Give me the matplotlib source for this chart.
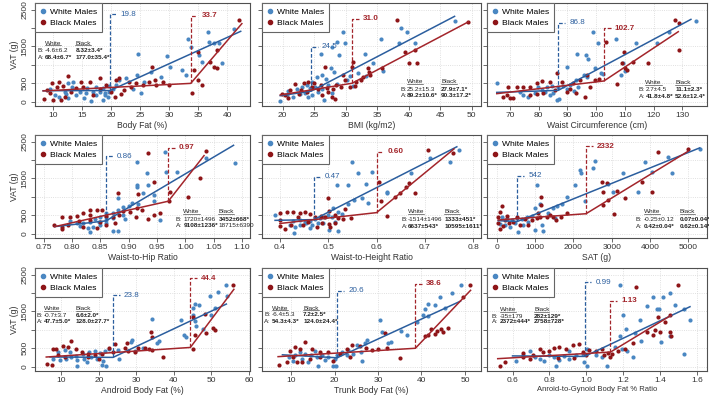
import matplotlib.pyplot as plt
from matplotlib.lines import Line2D

plt.rcParams['font.family'] = ['Liberation Sans', 'DejaVu Sans']

# ---- values: (x, VAT g) ----
bf_white = [(36.7,1880),(41.1,1985),(36.8,1627),(37.7,1582),(38.6,1582),(33.3,1690),(33.7,1490),(35.1,1265),(35.7,1084),(39.1,1038),(32.2,855),(32.9,720),(29.7,1238),(30.1,946),(24.6,1283),(24.5,720),(26.9,811),(28.6,675),(25.7,539),(22.6,630),(21.3,584),(20.9,448),(23.7,330),(25.1,222),(20.3,330),(19.7,267),(19.4,131),(18.6,41),(19.0,177),(18.0,267),(17.4,177),(16.6,5),(15.4,86),(14.6,267),(14.0,177),(13.3,385),(12.6,494),(12.0,267),(11.1,131),(10.3,177),(9.4,330),(12.6,86),(15.8,358),(17.4,385),(18.6,358),(19.7,421),(13.4,539),(16.9,267),(18.9,240),(12.2,195),(15.6,222)]
bf_black = [(42.0,2215),(38.3,1400),(35.0,1336),(37.1,1084),(37.7,946),(38.3,901),(34.3,856),(34.9,584),(35.7,448),(33.9,240),(27.1,946),(26.6,539),(27.6,584),(28.9,539),(29.9,448),(20.9,584),(21.4,630),(19.1,448),(18.0,630),(16.3,539),(14.9,539),(12.6,693),(11.1,539),(9.8,512),(10.6,385),(11.7,421),(8.9,312),(8.5,68),(10.0,41),(11.4,41),(12.0,131),(14.0,358),(15.1,385),(20.0,267),(21.7,203),(20.6,131),(23.4,385),(24.3,494),(25.4,448),(27.7,448),(23.1,539),(16.9,177),(18.0,330),(9.4,222),(13.1,267),(22.3,312)]
bf_white_fit = [(8.3,295),(19.8,300),(42.3,1910)]
bf_black_fit = [(8.3,290),(33.7,495),(42.5,2120)]
bf_bp = [("19.8", 2370), ("33.7", 2330)]
bf_stats_white = ["-4.6±6.2", "68.4±6.7*"]
bf_stats_black = ["8.32±3.4*", "177.0±35.4*"]
bf_xticks = [10, 15, 20, 25, 30, 35, 40]

bmi_white = [(47.4,2197),(38.8,1989),(39.8,1880),(29.5,1880),(28.6,1627),(29.9,1582),(35.6,1699),(38.4,1582),(41.0,1600),(27.8,1472),(26.1,1283),(29.0,1265),(33.1,1283),(34.4,1056),(35.9,829),(32.0,766),(30.7,693),(27.7,901),(28.2,811),(26.2,720),(25.4,657),(26.8,602),(24.7,539),(23.8,448),(23.0,385),(22.2,330),(20.9,294),(20.6,177),(19.6,10),(21.7,131),(22.8,195),(23.5,240),(24.3,358),(25.1,403),(25.6,267),(26.3,330),(26.6,41),(27.2,448),(27.8,240),(28.6,475),(30.2,584),(31.1,421),(33.3,693),(24.6,177),(24.0,131)]
bmi_black = [(49.5,2170),(38.1,2215),(39.5,1336),(41.0,1400),(40.0,1056),(41.3,1056),(26.7,946),(31.1,1084),(31.0,946),(33.6,920),(33.7,811),(33.9,720),(35.7,901),(32.4,584),(32.8,675),(31.7,539),(29.6,720),(29.9,584),(28.5,448),(28.0,330),(27.9,131),(28.3,59),(27.0,358),(26.0,448),(25.0,512),(24.0,539),(23.3,512),(21.9,475),(21.2,312),(20.4,177),(19.8,203),(20.9,86),(22.5,195),(22.9,312),(23.8,267),(25.6,330),(26.3,177),(27.2,267),(29.2,403),(31.5,421),(30.7,385),(24.6,385)]
bmi_white_fit = [(19.6,160),(24.5,283),(47.3,2317)]
bmi_black_fit = [(19.6,180),(31.0,498),(49.5,2168)]
bmi_bp = [("24.5", 1492), ("31.0", 2258)]
bmi_stats_white = ["25.2±15.3", "89.2±10.6*"]
bmi_stats_black = ["27.9±7.1*", "90.3±17.2*"]
bmi_xticks = [20, 25, 30, 35, 40, 45, 50]

wc_white = [(134.8,2197),(125.5,1880),(99.0,1880),(100.8,1582),(106.9,1699),(113.8,1582),(121.3,1600),(96.4,1265),(93.2,1283),(97.3,1147),(89.7,946),(99.6,901),(101.6,784),(102.5,738),(108.6,720),(110.1,829),(109.5,1056),(95.6,720),(96.7,657),(93.0,584),(90.9,448),(88.6,421),(86.8,385),(84.5,421),(82.8,385),(81.0,312),(78.7,222),(76.4,131),(74.6,177),(65.4,494),(73.5,267),(85.1,240),(86.5,41),(87.2,59),(89.7,330),(92.3,294),(93.8,385),(83.9,177),(79.9,385),(82.2,267)]
wc_black = [(127.5,2215),(128.7,2143),(128.7,1400),(117.9,1056),(109.8,1356),(108.9,1038),(112.7,1084),(110.1,901),(110.6,856),(107.2,475),(103.4,1627),(96.7,720),(94.4,584),(96.1,131),(90.9,330),(92.1,494),(88.0,539),(86.5,766),(83.9,539),(81.0,566),(79.3,494),(77.0,385),(74.6,403),(72.3,403),(69.4,385),(68.8,177),(69.9,86),(71.2,86),(67.7,131),(77.0,177),(79.3,203),(81.6,222),(85.7,312),(89.7,267),(93.0,240),(99.6,584),(101.1,602),(97.9,385)]
wc_white_fit = [(65.4,250),(86.8,305),(133.0,2235)]
wc_black_fit = [(65.4,215),(102.7,560),(128.6,1900)]
wc_bp = [("86.8", 2140), ("102.7", 1990)]
wc_stats_white = ["2.7±4.5", "41.8±4.8*"]
wc_stats_black = ["11.1±2.3*", "52.6±12.4*"]
wc_xticks = [70, 80, 90, 100, 110, 120, 130]

whr_white = [(0.965,2224),(1.036,2043),(1.087,1925),(0.914,1934),(0.932,1635),(0.966,1680),(0.985,1680),(0.934,1317),(0.914,1317),(0.914,1272),(0.926,1090),(0.944,1045),(0.882,955),(0.906,820),(0.917,802),(0.901,747),(0.945,883),(0.890,711),(0.882,639),(0.873,566),(0.860,548),(0.860,439),(0.850,439),(0.841,385),(0.832,322),(0.820,276),(0.809,294),(0.797,349),(0.861,276),(0.850,231),(0.838,186),(0.828,140),(0.815,204),(0.873,77),(0.882,77),(0.832,50),(0.861,367),(0.873,412),(0.890,502),(0.955,367),(0.847,322),(0.894,385)]
whr_black = [(1.036,2251),(0.934,2179),(1.025,1517),(1.005,1000),(0.945,1390),(0.882,1090),(0.973,1136),(0.972,883),(0.917,1063),(0.945,502),(0.955,548),(0.934,385),(0.913,439),(0.923,639),(0.914,684),(0.903,593),(0.890,620),(0.883,502),(0.873,457),(0.861,475),(0.853,639),(0.844,639),(0.832,639),(0.832,502),(0.820,548),(0.809,475),(0.797,439),(0.782,439),(0.782,186),(0.782,113),(0.768,231),(0.794,231),(0.820,186),(0.844,140),(0.861,231),(0.876,276),(0.832,367),(0.850,322),(0.812,349)]
whr_white_fit = [(0.77,190),(0.86,345),(1.085,2400)]
whr_black_fit = [(0.77,190),(0.97,880),(1.033,2120)]
whr_bp = [("0.86", 2106), ("0.97", 2328)]
whr_stats_white = ["1720±1496", "9108±1236*"]
whr_stats_black = ["3452±668*", "18715±6390"]
whr_xticks = [0.75, 0.80, 0.85, 0.90, 0.95, 1.00, 1.05, 1.10]

wht_white = [(0.771,2270),(0.752,1934),(0.711,2043),(0.550,1934),(0.590,1680),(0.561,1635),(0.540,1317),(0.519,1317),(0.579,1335),(0.671,1635),(0.621,1136),(0.621,1090),(0.569,955),(0.541,793),(0.583,838),(0.554,910),(0.510,684),(0.521,593),(0.528,529),(0.500,502),(0.492,439),(0.507,439),(0.483,412),(0.472,385),(0.462,349),(0.452,322),(0.441,367),(0.428,349),(0.390,502),(0.421,231),(0.431,186),(0.441,231),(0.455,276),(0.466,231),(0.479,276),(0.490,276),(0.501,95),(0.521,77),(0.430,23),(0.462,140),(0.514,322)]
wht_black = [(0.707,2270),(0.759,2179),(0.605,1408),(0.668,1381),(0.661,1272),(0.609,883),(0.621,475),(0.638,1000),(0.649,1090),(0.680,1090),(0.500,955),(0.535,657),(0.548,412),(0.521,412),(0.514,502),(0.501,620),(0.493,439),(0.485,475),(0.472,439),(0.462,529),(0.452,593),(0.441,566),(0.428,593),(0.414,593),(0.400,548),(0.400,367),(0.400,204),(0.410,113),(0.424,231),(0.438,439),(0.448,231),(0.459,322),(0.476,186),(0.488,276),(0.501,258),(0.503,167),(0.514,294),(0.531,385)]
wht_white_fit = [(0.39,360),(0.47,380),(0.766,2360)]
wht_black_fit = [(0.40,275),(0.60,570),(0.76,2300)]
wht_bp = [("0.47", 1545), ("0.60", 2221)]
wht_stats_white = ["-1514±1496", "6637±543*"]
wht_stats_black = ["1333±451*", "10595±1611*"]
wht_xticks = [0.4, 0.5, 0.6, 0.7, 0.8]

sat_white = [(5307,2288),(4481,2088),(3872,1952),(4046,1680),(4568,1653),(3306,1653),(2915,1345),(3698,1118),(3028,1136),(2567,1979),(2506,1789),(2175,1725),(2201,1653),(2045,1317),(1827,1000),(1697,793),(1583,747),(1479,684),(2306,883),(1044,1317),(1131,802),(1001,684),(914,475),(783,439),(653,385),(522,412),(392,367),(261,385),(131,457),(87,258),(218,231),(348,167),(479,276),(566,50),(696,231),(827,322),(1001,95),(1201,77),(1175,231),(1349,566),(1523,412)]
sat_black = [(4202,2206),(5003,2288),(2741,1408),(2871,1381),(2767,1136),(3132,1154),(3785,1408),(4046,1118),(3350,955),(2915,910),(2767,774),(3062,529),(1157,1000),(1157,774),(1827,566),(1679,439),(1479,439),(1305,439),(1044,412),(1131,457),(914,367),(740,385),(522,439),(261,475),(131,747),(87,593),(44,439),(44,276),(87,113),(174,204),(331,276),(435,322),(609,231),(1088,566),(1392,502),(1549,367),(827,231),(218,367)]
sat_white_fit = [(40,350),(542,330),(5300,2330)]
sat_black_fit = [(40,370),(2332,540),(5000,2240)]
sat_bp = [("542", 1572), ("2332", 2373)]
sat_stats_white = ["-0.25±0.12", "0.42±0.04*"]
sat_stats_black = ["0.07±0.04*", "0.62±0.14*"]
sat_xticks = [0, 1000, 2000, 3000, 4000, 5000]

and_white = [(53.9,2206),(51.7,2025),(49.6,1916),(54.3,1907),(45.7,1708),(46.8,1662),(45.2,1599),(50.9,1599),(50.0,1390),(45.2,1408),(45.7,1227),(42.0,1254),(45.9,1091),(47.8,1028),(42.6,846),(43.3,801),(34.1,1281),(36.1,684),(35.6,638),(28.9,729),(28.7,666),(25.2,439),(25.4,213),(22.6,466),(21.6,412),(20.4,367),(19.1,412),(17.4,394),(15.7,349),(13.9,285),(12.2,394),(10.9,439),(9.1,394),(7.8,213),(9.6,168),(11.3,213),(12.6,258),(14.3,168),(16.1,213),(17.8,258),(19.6,195),(21.0,140),(20.9,32),(21.9,14),(14.3,5),(16.9,122),(29.6,412),(31.7,502)]
and_black = [(55.8,2224),(48.3,1417),(45.2,1345),(48.7,919),(50.4,1046),(51.0,1000),(45.7,846),(45.2,466),(33.9,937),(34.2,801),(37.0,258),(33.5,484),(34.3,439),(32.2,502),(30.4,502),(27.4,638),(24.3,620),(22.6,502),(20.9,349),(19.1,322),(17.2,349),(15.5,394),(12.6,693),(11.7,529),(10.4,556),(8.7,466),(9.1,303),(7.8,484),(6.1,77),(7.4,32),(10.9,258),(13.9,466),(17.0,258),(20.0,213),(23.9,394),(27.8,412),(26.9,502),(29.6,394)]
and_white_fit = [(7,262),(23.8,250),(54,1700)]
and_black_fit = [(6,260),(44.4,520),(56,2100)]
and_bp = [("23.8", 1938), ("44.4", 2400)]
and_stats_white = ["-0.7±3.7", "47.7±5.0*"]
and_stats_black = ["6.6±2.0*", "128.0±27.7*"]
and_xticks = [10, 20, 30, 40, 50, 60]

tr_white = [(49.2,2224),(47.1,2007),(44.3,1889),(41.6,1708),(43.1,1662),(40.7,1572),(45.4,1599),(41.6,1363),(38.9,1209),(40.4,1390),(36.6,846),(35.4,955),(33.1,666),(32.4,638),(30.5,1254),(27.4,711),(27.0,638),(25.1,575),(26.1,394),(26.2,140),(23.2,439),(21.6,394),(20.5,322),(20.0,213),(20.3,10),(19.7,14),(18.6,258),(17.2,303),(15.9,258),(14.6,322),(13.2,349),(12.1,394),(10.9,322),(9.4,258),(10.5,140),(12.5,195),(14.0,122),(16.3,14),(17.7,168),(15.5,412),(22.8,303),(30.9,937),(24.3,349)]
tr_black = [(51.1,2224),(49.5,1889),(31.5,919),(24.0,575),(35.1,231),(40.8,828),(41.6,864),(43.5,955),(43.1,892),(45.0,937),(46.2,1046),(44.6,1028),(42.3,1028),(13.2,666),(10.9,529),(9.8,412),(7.1,32),(9.0,122),(10.5,258),(12.1,466),(14.8,466),(16.7,394),(18.6,394),(16.7,258),(21.3,349),(22.8,466),(25.9,556),(27.2,502),(28.5,439),(30.1,466),(32.0,502),(23.6,258),(12.5,122),(14.4,213),(19.7,140),(11.3,122)]
tr_white_fit = [(8,320),(20.6,240),(49,1780)]
tr_black_fit = [(7,270),(38.6,498),(51.3,2073)]
tr_bp = [("20.6", 2061), ("38.6", 2248)]
tr_stats_white = ["-6.4±5.3", "54.3±4.3*"]
tr_stats_black = ["7.2±2.5*", "124.0±24.4*"]
tr_xticks = [10, 20, 30, 40, 50]

ag_white = [(1.184,2206),(1.362,1889),(1.416,1889),(1.452,2007),(1.380,1572),(1.393,1572),(1.330,1645),(1.479,1681),(1.525,1572),(1.196,1390),(1.288,1254),(1.261,919),(1.296,684),(1.214,1028),(1.184,828),(1.404,666),(1.452,828),(1.559,1254),(1.529,349),(1.250,258),(1.193,466),(1.220,412),(1.157,529),(1.086,258),(1.050,322),(1.005,466),(0.979,349),(0.943,303),(0.907,213),(0.880,276),(0.854,168),(0.827,258),(0.800,303),(0.773,140),(0.746,213),(0.720,258),(0.693,412),(0.657,303),(0.621,140),(0.836,14),(1.005,14),(1.112,14),(0.988,122),(0.907,412)]
ag_black = [(1.270,2161),(1.496,2224),(1.386,1345),(1.452,1390),(1.425,1209),(1.371,982),(1.398,937),(1.452,937),(1.457,828),(1.362,846),(1.327,937),(1.250,648),(1.211,466),(1.171,412),(1.139,349),(1.118,376),(1.130,258),(1.095,303),(1.050,412),(1.014,439),(0.979,394),(0.961,620),(0.925,593),(0.889,466),(0.854,529),(0.827,502),(0.796,412),(0.764,394),(0.746,466),(0.711,303),(0.657,376),(0.657,258),(0.559,122),(0.532,14),(0.693,195),(0.845,231),(0.934,231),(0.996,303),(1.086,466)]
ag_white_fit = [(0.60,290),(0.99,276),(1.56,1628)]
ag_black_fit = [(0.52,215),(1.13,395),(1.46,1400)]
ag_bp = [("0.99", 2293), ("1.13", 1794)]
ag_stats_white = ["-35±179", "2372±444*"]
ag_stats_black = ["282±129*", "2758±728*"]
ag_xticks = [0.6, 0.8, 1.0, 1.2, 1.4, 1.6]

vat_ticks = [0, 500, 1000, 1500, 2000, 2500]
vat_ticklabels = ["0", "500", "", "1500", "", "2500"]

white_pt = "#4a87c2"
black_pt = "#8e1518"
white_ln = "#2b5e9e"
black_ln = "#a3252b"
frame = "#505050"

# stat_pos = (x "B:/A:", x White col, x Black col, y header, y B row, y A row) in axes fraction
panels = [
    dict(white=bf_white, black=bf_black, wfit=bf_white_fit, bfit=bf_black_fit, bp=bf_bp,
         ws=bf_stats_white, bs=bf_stats_black, xticks=bf_xticks, fmt="{:g}",
         xlabel="Body Fat (%)", xlim=(6.9, 43.9), pos=(0.012, 0.045, 0.188, 0.61, 0.537, 0.473)),
    dict(white=bmi_white, black=bmi_black, wfit=bmi_white_fit, bfit=bmi_black_fit, bp=bmi_bp,
         ws=bmi_stats_white, bs=bmi_stats_black, xticks=bmi_xticks, fmt="{:g}",
         xlabel="BMI (kg/m2)", xlim=(16.7, 51.5), pos=(0.633, 0.662, 0.818, 0.236, 0.163, 0.10)),
    dict(white=wc_white, black=wc_black, wfit=wc_white_fit, bfit=wc_black_fit, bp=wc_bp,
         ws=wc_stats_white, bs=wc_stats_black, xticks=wc_xticks, fmt="{:g}",
         xlabel="Waist Circumference (cm)", xlim=(62.0, 138.6), pos=(0.689, 0.72, 0.855, 0.226, 0.162, 0.095)),
    dict(white=whr_white, black=whr_black, wfit=whr_white_fit, bfit=whr_black_fit, bp=whr_bp,
         ws=whr_stats_white, bs=whr_stats_black, xticks=whr_xticks, fmt="{:.2f}",
         xlabel="Waist-to-Hip Ratio", xlim=(0.735, 1.114), pos=(0.654, 0.69, 0.853, 0.255, 0.183, 0.12)),
    dict(white=wht_white, black=wht_black, wfit=wht_white_fit, bfit=wht_black_fit, bp=wht_bp,
         ws=wht_stats_white, bs=wht_stats_black, xticks=wht_xticks, fmt="{:.1f}",
         xlabel="Waist-to-Height Ratio", xlim=(0.363, 0.816), pos=(0.638, 0.665, 0.833, 0.255, 0.18, 0.11)),
    dict(white=sat_white, black=sat_black, wfit=sat_white_fit, bfit=sat_black_fit, bp=sat_bp,
         ws=sat_stats_white, bs=sat_stats_black, xticks=sat_xticks, fmt="{:g}",
         xlabel="SAT (g)", xlim=(-253, 5490), pos=(0.676, 0.712, 0.876, 0.255, 0.18, 0.11)),
    dict(white=and_white, black=and_black, wfit=and_white_fit, bfit=and_black_fit, bp=and_bp,
         ws=and_stats_white, bs=and_stats_black, xticks=and_xticks, fmt="{:g}",
         xlabel="Android Body Fat (%)", xlim=(3.0, 60.3), pos=(0.008, 0.042, 0.19, 0.605, 0.541, 0.476)),
    dict(white=tr_white, black=tr_black, wfit=tr_white_fit, bfit=tr_black_fit, bp=tr_bp,
         ws=tr_stats_white, bs=tr_stats_black, xticks=tr_xticks, fmt="{:g}",
         xlabel="Trunk Body Fat (%)", xlim=(3.3, 53.7), pos=(0.01, 0.044, 0.188, 0.61, 0.547, 0.483)),
    dict(white=ag_white, black=ag_black, wfit=ag_white_fit, bfit=ag_black_fit, bp=ag_bp,
         ws=ag_stats_white, bs=ag_stats_black, xticks=ag_xticks, fmt="{:.1f}",
         xlabel="Anroid-to-Gynoid Body Fat % Ratio", xlim=(0.462, 1.652), pos=(0.021, 0.059, 0.214, 0.595, 0.532, 0.476)),
]

W, H = 709, 398
col_left = [35, 262, 487]
col_w = [215, 219, 220]
row_top = [3, 135, 268]
row_h = 103

fig = plt.figure(figsize=(W / 100, H / 100), dpi=100, facecolor="white")
headers = []

for i, p in enumerate(panels):
    r, c = divmod(i, 3)
    ax = fig.add_axes([col_left[c] / W, 1 - (row_top[r] + row_h) / H, col_w[c] / W, row_h / H])
    x0, x1 = p["xlim"]
    span = x1 - x0

    for pts, color in ((p["white"], white_pt), (p["black"], black_pt)):
        ax.scatter([a for a, b in pts], [b for a, b in pts], s=9, color=color, linewidths=0, zorder=2)

    for k, (fit, color, weight) in enumerate(((p["wfit"], white_ln, "normal"), (p["bfit"], black_ln, "bold"))):
        ax.plot([a for a, b in fit], [b for a, b in fit], color=color, lw=1.1, zorder=3)
        bx, by = fit[1]
        label, ty = p["bp"][k]
        ax.plot([bx, bx, bx + 0.031 * span], [by, ty, ty], color=color, lw=0.9,
                ls=(0, (3, 1.5)), zorder=3)
        ax.text(bx + 0.05 * span, ty, label, color=color, fontsize=5.8, fontweight=weight,
                va="center", ha="left", zorder=4)

    # stats table
    xb, xw, xk, yh, yb, ya = p["pos"]
    for xx, name in ((xw, "White"), (xk, "Black")):
        headers.append(ax.text(xx, yh, name, transform=ax.transAxes, fontsize=4.6,
                               color="#222222", va="center", ha="left"))
    for yy, lab, wv, kv in ((yb, "B:", p["ws"][0], p["bs"][0]), (ya, "A:", p["ws"][1], p["bs"][1])):
        ax.text(xb, yy, lab, transform=ax.transAxes, fontsize=4.6, color="#222222", va="center")
        for xx, v in ((xw, wv), (xk, kv)):
            ax.text(xx, yy, v, transform=ax.transAxes, fontsize=4.6, color="#222222", va="center",
                    fontweight="bold" if v.endswith("*") else "normal")

    ax.set_xlim(x0, x1)
    ax.set_ylim(-120, 2680)
    ax.set_xticks(p["xticks"])
    ax.set_xticklabels([p["fmt"].format(t) for t in p["xticks"]])
    ax.set_yticks(vat_ticks)
    if c == 0:
        ax.set_yticklabels(vat_ticklabels, rotation=90, va="center")
        ax.set_ylabel("VAT (g)", fontsize=6.2, color="#333333", labelpad=2)
    else:
        ax.set_yticklabels([])
    ax.set_xlabel(p["xlabel"], fontsize=5.5 if i == 8 else 6.2, color="#333333", labelpad=1)
    ax.tick_params(direction="out", length=3, width=0.6, color=frame, labelsize=6,
                   labelcolor="#333333", pad=1.5)
    ax.grid(True, color="#d6d6d6", linestyle=":", linewidth=0.6, zorder=0)
    ax.set_axisbelow(True)
    for spine in ax.spines.values():
        spine.set_color(frame)
        spine.set_linewidth(0.8)

    handles = [Line2D([], [], marker="o", ls="", color=white_pt, markersize=3),
               Line2D([], [], marker="o", ls="", color=black_pt, markersize=3)]
    leg = ax.legend(handles, ["White Males", "Black Males"], loc="upper left", borderaxespad=0,
                    fontsize=6.1, frameon=True, fancybox=False, edgecolor="#666666", framealpha=1,
                    handlelength=0.7, handletextpad=0.5, borderpad=0.6, labelspacing=0.35)
    leg.get_frame().set_linewidth(0.8)
    leg.set_zorder(5)

# underline the White / Black headers
fig.canvas.draw()
renderer = fig.canvas.get_renderer()
for t in headers:
    bb = t.get_window_extent(renderer)
    y = (bb.y0 + 0.3) / H
    fig.add_artist(Line2D([bb.x0 / W, bb.x1 / W], [y, y], transform=fig.transFigure,
                          color="#222222", lw=0.4))

fig.savefig("out.png", dpi=100)
